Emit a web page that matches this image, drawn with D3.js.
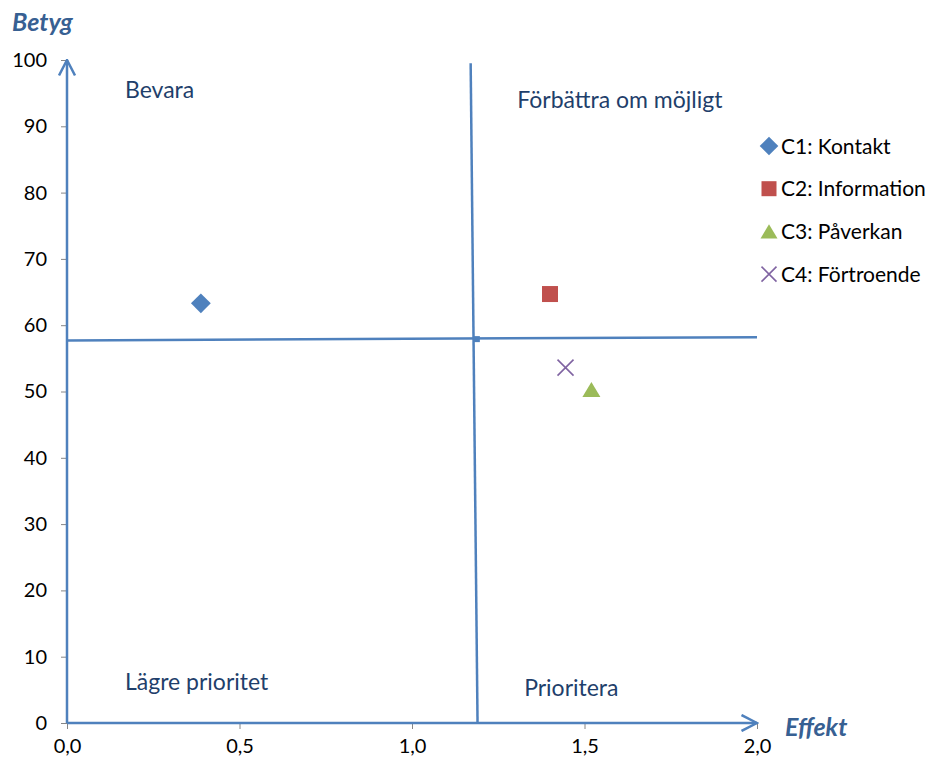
<!DOCTYPE html>
<html>
<head>
<meta charset="utf-8">
<script src="https://cdn.jsdelivr.net/npm/d3@7"></script>
<style>
  body { margin: 0; background: #fff; }
  text { font-family: Lato, "Open Sans", sans-serif; }
</style>
</head>
<body>
<svg id="chart" width="931" height="763"></svg>
<script>
const series = [
  { name: "C1: Kontakt", x: 0.388, y: 63.3, shape: "diamond", color: "#4F81BD" },
  { name: "C2: Information", x: 1.40, y: 64.7, shape: "square", color: "#C0504D" },
  { name: "C3: Påverkan", x: 1.52, y: 50.3, shape: "triangle", color: "#9BBB59" },
  { name: "C4: Förtroende", x: 1.445, y: 53.6, shape: "cross", color: "#8064A2" }
];
const xTicks = [0, 0.5, 1.0, 1.5, 2.0];
const yTicks = [0, 10, 20, 30, 40, 50, 60, 70, 80, 90, 100];
// hjälplinjer (kvadranter)
const vLine = [[1.19, 0], [1.17, 99.5]];
const hLine = [[0, 57.7], [2.0, 58.2]];
const crossPt = [1.188, 57.9];
const quadLabels = [
  { text: "Bevara", x: 0.168, y: 94.2 },
  { text: "Förbättra om möjligt", x: 1.305, y: 92.7 },
  { text: "Lägre prioritet", x: 0.168, y: 5.0 },
  { text: "Prioritera", x: 1.325, y: 4.0 }
];

const svg = d3.select("#chart");
const x = d3.scaleLinear().domain([0, 2]).range([67, 757]);
const y = d3.scaleLinear().domain([0, 100]).range([723, 60]);
const blue = "#4F81BD";

// axlar (grå ticks)
const gx = svg.append("g").attr("transform", `translate(0,${y(0)})`)
  .call(d3.axisBottom(x).tickValues(xTicks).tickSize(6).tickPadding(10)
    .tickFormat(d => d3.format(".1f")(d).replace(".", ",")));
const gy = svg.append("g").attr("transform", `translate(${x(0)},0)`)
  .call(d3.axisLeft(y).tickValues(yTicks).tickSize(6).tickPadding(14));
[gx, gy].forEach(g => {
  g.select(".domain").attr("stroke", "#868686");
  g.selectAll(".tick line").attr("stroke", "#868686");
  g.selectAll(".tick text").attr("fill", "#000").style("font-size", "20px")
    .style("font-family", "Lato, 'Open Sans', sans-serif");
});

// pilar (öppna)
svg.append("defs").append("marker")
  .attr("id", "arrow").attr("viewBox", "0 0 18 18")
  .attr("refX", 16.5).attr("refY", 9)
  .attr("markerWidth", 18).attr("markerHeight", 18)
  .attr("markerUnits", "userSpaceOnUse").attr("orient", "auto")
  .append("path").attr("d", "M1,1 L16.5,9 L1,17")
  .attr("fill", "none").attr("stroke", blue).attr("stroke-width", 2.5);

const line = d3.line().x(d => x(d[0])).y(d => y(d[1]));
svg.append("path").attr("d", line([[0, 0], [0, 100]]))
  .attr("stroke", blue).attr("stroke-width", 2.5).attr("fill", "none")
  .attr("marker-end", "url(#arrow)");
svg.append("path").attr("d", line([[0, 0], [2, 0]]))
  .attr("stroke", blue).attr("stroke-width", 2.5).attr("fill", "none")
  .attr("marker-end", "url(#arrow)");

svg.append("path").attr("d", line(vLine))
  .attr("stroke", blue).attr("stroke-width", 2.5).attr("fill", "none");
svg.append("path").attr("d", line(hLine))
  .attr("stroke", blue).attr("stroke-width", 2.5).attr("fill", "none");
svg.append("rect")
  .attr("x", x(crossPt[0]) - 3).attr("y", y(crossPt[1]) - 3)
  .attr("width", 6).attr("height", 6).attr("fill", blue);

// kvadrantetiketter
svg.selectAll(".quad").data(quadLabels).enter().append("text")
  .attr("class", "quad")
  .attr("x", d => x(d.x)).attr("y", d => y(d.y))
  .attr("fill", "#1F3F6B").style("font-size", "23px")
  .text(d => d.text);

// axeltitlar
svg.append("text").attr("x", 12).attr("y", 31)
  .attr("fill", "#376092").style("font-size", "25px")
  .style("font-weight", "bold").style("font-style", "italic").text("Betyg");
svg.append("text").attr("x", 785).attr("y", 736)
  .attr("fill", "#376092").style("font-size", "25px")
  .style("font-weight", "bold").style("font-style", "italic").text("Effekt");

function drawMarker(g, shape, color, size) {
  if (shape === "diamond") {
    const s = size * 0.62;
    g.append("path").attr("d", `M0,${-s}L${s},0L0,${s}L${-s},0Z`)
      .attr("fill", color);
  } else if (shape === "square") {
    g.append("rect").attr("x", -size / 2).attr("y", -size / 2)
      .attr("width", size).attr("height", size).attr("fill", color);
  } else if (shape === "triangle") {
    const h = size * 0.95;
    g.append("path").attr("d", `M0,${-h / 2}L${size / 2 + 1},${h / 2}L${-size / 2 - 1},${h / 2}Z`)
      .attr("fill", color);
  } else {
    const s = size / 2;
    g.append("path").attr("d", `M${-s},${-s}L${s},${s}M${-s},${s}L${s},${-s}`)
      .attr("stroke", color).attr("stroke-width", 1.6);
  }
}

// punkter
series.forEach(d => {
  const g = svg.append("g").attr("transform", `translate(${x(d.x)},${y(d.y)})`);
  drawMarker(g, d.shape, d.color, 16);
});

// legend
const leg = svg.append("g").attr("transform", "translate(769,146)");
series.forEach((d, i) => {
  const g = leg.append("g").attr("transform", `translate(0,${i * 42.7})`);
  drawMarker(g.append("g"), d.shape, d.color, 15);
  g.append("text").attr("x", 12).attr("y", 7.5)
    .attr("fill", "#000").style("font-size", "21px").text(d.name);
});
</script>
</body>
</html>
